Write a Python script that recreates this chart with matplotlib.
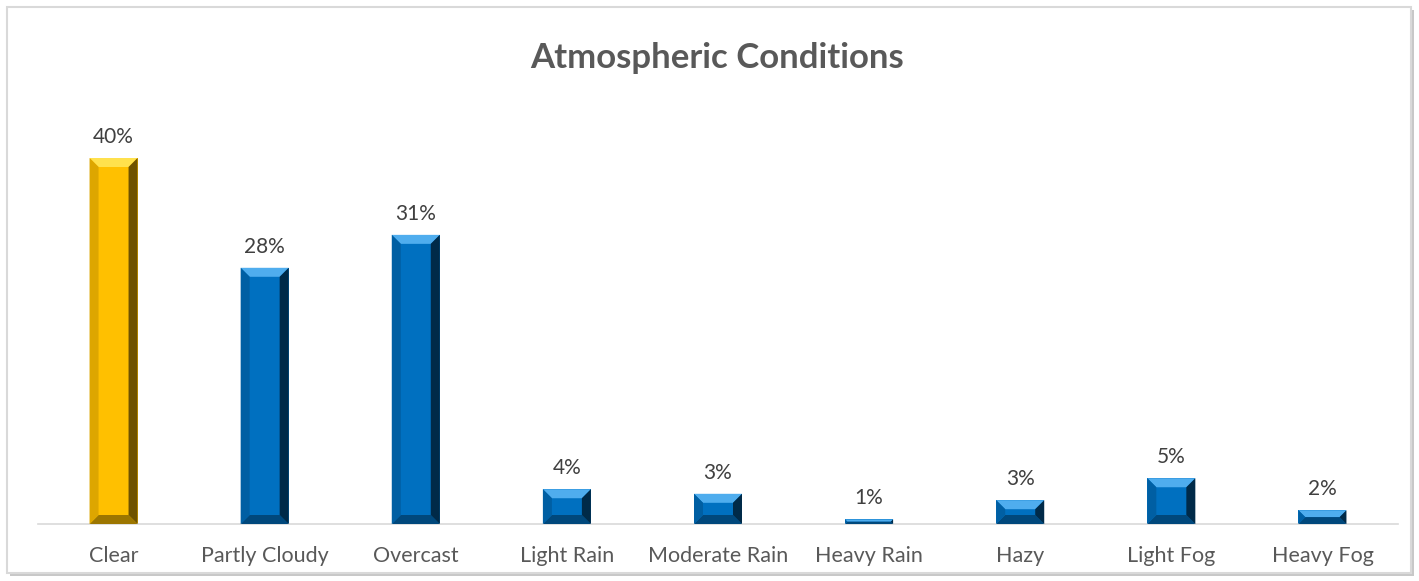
import matplotlib.pyplot as plt
from matplotlib.patches import Polygon, Rectangle

categories = ['Clear', 'Partly Cloudy', 'Overcast', 'Light Rain', 'Moderate Rain',
              'Heavy Rain', 'Hazy', 'Light Fog', 'Heavy Fog']
values = [40.0, 28.0, 31.6, 3.8, 3.3, 0.5, 2.6, 5.0, 1.5]
labels = ['40%', '28%', '31%', '4%', '3%', '1%', '3%', '5%', '2%']
highlight = 'Clear'

W, H = 1419, 581
plt.rcParams['font.family'] = ['Lato', 'DejaVu Sans']

fig = plt.figure(figsize=(W / 100, H / 100), dpi=100)

# frame with a soft shadow
fig.patches.append(Rectangle((10 / W, 5 / H), 1404 / W, 566 / H, transform=fig.transFigure,
                             facecolor='#C8C8C8', edgecolor='none', zorder=0))
fig.patches.append(Rectangle((7 / W, 8 / H), 1404 / W, 566 / H, transform=fig.transFigure,
                             facecolor='white', edgecolor='#D9D9D9', linewidth=1.5, zorder=1))

ax_left, ax_right, ax_bottom, ax_top = 38, 1398, 524, 100
ax = fig.add_axes([ax_left / W, (H - ax_bottom) / H, (ax_right - ax_left) / W,
                   (ax_bottom - ax_top) / H])
ax.set_facecolor('none')
ax.set_zorder(2)

px_per_val = 366 / 40.0
ax.set_ylim(0, (ax_bottom - ax_top) / px_per_val)
ax.set_xlim(-0.5, len(categories) - 0.5)
px_per_cat = (ax_right - ax_left) / len(categories)

bar_w = 48 / px_per_cat
x = list(range(len(categories)))
colors = ['#FFC000' if c == highlight else '#0070C0' for c in categories]
ax.bar(x, values, width=bar_w, color=colors, edgecolor='none', zorder=2)

# bevel shading
shades = {
    '#FFC000': {'top': '#FFE14D', 'left': '#DDA600', 'right': '#6E5200', 'bottom': '#9C7600'},
    '#0070C0': {'top': '#4FADEE', 'left': '#005FA3', 'right': '#002A48', 'bottom': '#00487C'},
}
bev_px = 9
for xi, v, c in zip(x, values, colors):
    s = shades[c]
    x0, x1 = xi - bar_w / 2, xi + bar_w / 2
    h_px = v * px_per_val
    b = min(bev_px, h_px / 2)
    bx = b / px_per_cat
    by = b / px_per_val
    polys = [
        ('top', [(x0, v), (x1, v), (x1 - bx, v - by), (x0 + bx, v - by)]),
        ('bottom', [(x0, 0), (x1, 0), (x1 - bx, by), (x0 + bx, by)]),
        ('left', [(x0, 0), (x0, v), (x0 + bx, v - by), (x0 + bx, by)]),
        ('right', [(x1, 0), (x1, v), (x1 - bx, v - by), (x1 - bx, by)]),
    ]
    for side, pts in polys:
        ax.add_patch(Polygon(pts, closed=True, facecolor=s[side], edgecolor='none', zorder=3))
    ax.text(xi, v + 11 / px_per_val, labels[xi], ha='center', va='bottom',
            fontsize=15, color='#404040', zorder=4)

for sp in ['top', 'right', 'left']:
    ax.spines[sp].set_visible(False)
ax.spines['bottom'].set_color('#D9D9D9')
ax.spines['bottom'].set_linewidth(1.2)
ax.set_yticks([])
ax.set_xticks(x)
ax.set_xticklabels(categories, fontsize=15.5, color='#595959')
ax.tick_params(axis='x', length=0, pad=16)

fig.text(717 / W, 1 - 58 / H, 'Atmospheric Conditions', ha='center', va='center',
         fontsize=25, fontweight='bold', color='#595959')

fig.savefig('out.png', dpi=100)
